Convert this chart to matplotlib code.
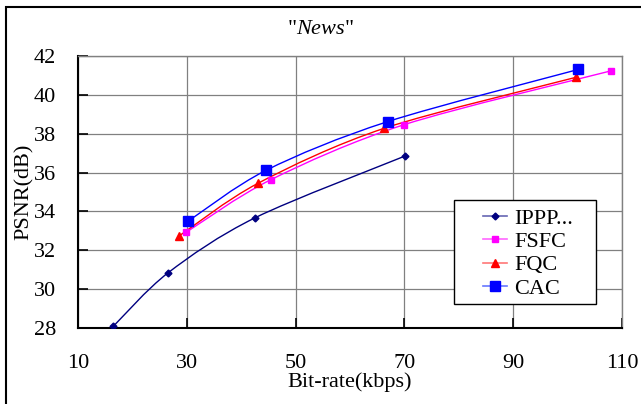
import matplotlib
matplotlib.use("Agg")
import matplotlib.pyplot as plt
from matplotlib.path import Path
from matplotlib.patches import PathPatch, Rectangle
from matplotlib.lines import Line2D

plt.rcParams['font.family'] = ['Liberation Serif', 'DejaVu Serif']
plt.rcParams['mathtext.fontset'] = 'custom'
plt.rcParams['mathtext.rm'] = 'Liberation Serif'
plt.rcParams['mathtext.it'] = 'Liberation Serif:italic'

# data
ippp_x = [16.5, 26.6, 42.6, 70.1]
ippp_y = [28.09, 30.85, 33.68, 36.85]
fsfc_x = [29.9, 45.5, 70.0, 107.9]
fsfc_y = [32.93, 35.64, 38.47, 41.23]
fqc_x = [28.5, 43.1, 66.3, 101.5]
fqc_y = [32.72, 35.45, 38.28, 40.90]
cac_x = [30.2, 44.6, 66.9, 102.0]
cac_y = [33.49, 36.12, 38.62, 41.31]

names = ["IPPP...", "FSFC", "FQC", "CAC"]
colors = ["#000080", "#FF00FF", "#FF0000", "#0000FF"]
leg_colors = ["#6666B3", "#FF66FF", "#FF7777", "#6677FF"]
markers = ["D", "s", "^", "s"]
msizes = [3.5, 4.5, 5.5, 7.5]
xticks = [10, 30, 50, 70, 90, 110]
yticks = [28, 30, 32, 34, 36, 38, 40, 42]

FS = 16


def smooth_path(xs, ys, k=6.5):
    # smoothed line: cubic Bezier through the points
    pts = list(zip(xs, ys))
    verts = [pts[0]]
    codes = [Path.MOVETO]
    n = len(pts)
    for i in range(n - 1):
        p0 = pts[max(i - 1, 0)]
        p1 = pts[i]
        p2 = pts[i + 1]
        p3 = pts[min(i + 2, n - 1)]
        c1 = (p1[0] + (p2[0] - p0[0]) / k, p1[1] + (p2[1] - p0[1]) / k)
        c2 = (p2[0] - (p3[0] - p1[0]) / k, p2[1] - (p3[1] - p1[1]) / k)
        verts += [c1, c2, p2]
        codes += [Path.CURVE4] * 3
    return Path(verts, codes)


fig = plt.figure(figsize=(6.41, 4.04), dpi=100)
ax = fig.add_axes([78 / 641, 76 / 404, 544 / 641, 272 / 404])

series = [(ippp_x, ippp_y), (fsfc_x, fsfc_y), (fqc_x, fqc_y), (cac_x, cac_y)]
handles = []
for (xs, ys), c, lc, m, ms in zip(series, colors, leg_colors, markers, msizes):
    ax.add_patch(PathPatch(smooth_path(xs, ys), fill=False, edgecolor=c,
                           lw=1.0, zorder=3))
    ax.plot(xs, ys, ls="none", marker=m, ms=ms, color=c, mec=c, zorder=4)
    handles.append(Line2D([], [], color=lc, lw=1.2, marker=m,
                          ms=ms, mfc=c, mec=c))

ax.set_xlim(10, 110)
ax.set_ylim(28, 42)
ax.set_xticks(xticks)
ax.set_yticks(yticks)
ax.grid(True, color="#808080", lw=0.9)
ax.set_axisbelow(True)
ax.tick_params(direction="in", length=7, width=1.2, labelsize=FS,
               color="black")
ax.tick_params(axis="x", pad=19)
ax.tick_params(axis="y", pad=16)
for s in ["left", "bottom"]:
    ax.spines[s].set_linewidth(1.5)
for s in ["top", "right"]:
    ax.spines[s].set_color("#808080")
    ax.spines[s].set_linewidth(1.0)

ax.set_xlabel("Bit-rate(kbps)", fontsize=FS, labelpad=-1)
ax.set_ylabel("PSNR(dB)", fontsize=FS, labelpad=0)

fig.text(0.5, 1 - 34 / 404, r'"$\mathit{News}$"', ha="center",
         va="baseline", fontsize=FS)

# legend box drawn separately so its padding matches the reference
ax.add_patch(Rectangle(((454 - 78) / 544, (328 - 304) / 272), 142 / 544,
                       104 / 272, transform=ax.transAxes, facecolor="white",
                       edgecolor="black", lw=1.0, zorder=5))
leg = ax.legend(handles, names, loc="center left",
                bbox_to_anchor=((483 - 78) / 544, (328 - 253.5) / 272),
                fontsize=FS, frameon=False, handlelength=1.1,
                handletextpad=0.3, labelspacing=0.12, borderpad=0,
                borderaxespad=0)
leg.set_zorder(6)

fig.patches.append(Rectangle((6 / 641, -0.5), 2.0, 1.5 - 7 / 404,
                             transform=fig.transFigure, fill=False,
                             edgecolor="black", lw=1.5))

fig.savefig("out.png", dpi=100)
